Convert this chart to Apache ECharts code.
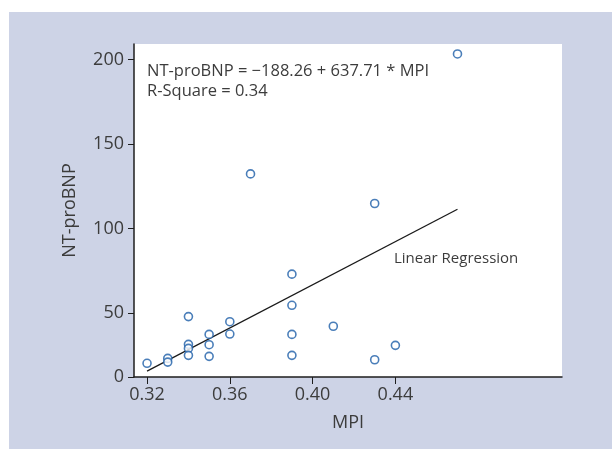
<!DOCTYPE html>
<html>
<head>
<meta charset="utf-8">
<script src="https://cdn.jsdelivr.net/npm/echarts@6/dist/echarts.min.js"></script>
<style>
html,body{margin:0;padding:0;background:#ffffff;}
#chart{width:612px;height:449px;}
</style>
</head>
<body>
<div id="chart"></div>
<script>
// Data
const mpi = [0.32, 0.33, 0.33, 0.34, 0.34, 0.34, 0.34, 0.35, 0.35, 0.35, 0.36, 0.36,
             0.37, 0.39, 0.39, 0.39, 0.39, 0.41, 0.43, 0.43, 0.44, 0.47];
const ntprobnp = [20.4, 23.3, 21.1, 48, 31.6, 29.2, 25.1, 37.5, 31.4, 24.5, 45, 37.7,
                  132.4, 73.1, 54.7, 37.5, 25.1, 42.3, 22.5, 114.9, 31.0, 203.3];
const regX = [0.32, 0.47];
const regY = [15.8, 111.5];
const xTickValues = [0.32, 0.36, 0.40, 0.44];
const xTickLabels = ['0.32', '0.36', '0.40', '0.44'];
const yTickValues = [12.3, 50, 100, 150, 200];
const yTickLabels = ['0', '50', '100', '150', '200'];
const equationText = 'NT-proBNP = \u2212188.26 + 637.71 * MPI';
const rsqText = 'R-Square = 0.34';
const regLabel = 'Linear Regression';

const FONT = '"Open Sans", "Noto Sans", sans-serif';
const TXT = '#3c3c3c';
const AX = '#1e1e1e';

const chart = echarts.init(document.getElementById('chart'));
const points = mpi.map((v, i) => [v, ntprobnp[i]]);
const line = regX.map((v, i) => [v, regY[i]]);

chart.setOption({
  backgroundColor: 'transparent',
  animation: false,
  graphic: [
    { type: 'rect', z: -10, shape: { x: 9, y: 12, width: 603, height: 437 },
      style: { fill: '#cdd3e6' } },
    { type: 'text', left: 147, top: 63, z: 10,
      style: { text: equationText, fill: TXT, font: '16.5px ' + FONT } },
    { type: 'text', left: 147, top: 83, z: 10,
      style: { text: rsqText, fill: TXT, font: '16.5px ' + FONT } },
    { type: 'text', left: 394, top: 251, z: 10,
      style: { text: regLabel, fill: TXT, font: '15px ' + FONT } }
  ],
  grid: {
    left: 134, right: 50, top: 44, bottom: 72,
    show: true, backgroundColor: '#ffffff', borderWidth: 0
  },
  xAxis: {
    type: 'value', min: 0.3137, max: 0.5205,
    name: 'MPI', nameLocation: 'middle', nameGap: 37,
    nameTextStyle: { color: TXT, fontSize: 18, fontFamily: FONT },
    axisLine: { show: true, lineStyle: { color: AX, width: 1.5 } },
    axisTick: { show: true, length: 7, customValues: xTickValues, lineStyle: { color: AX, width: 1 } },
    axisLabel: {
      customValues: xTickValues, margin: 9, color: TXT, fontSize: 18, fontFamily: FONT,
      formatter: v => { const i = xTickValues.findIndex(t => Math.abs(t - v) < 1e-6); return i >= 0 ? xTickLabels[i] : ''; }
    },
    splitLine: { show: false }
  },
  yAxis: {
    type: 'value', min: 12.3, max: 209.2,
    name: 'NT-proBNP', nameLocation: 'middle', nameGap: 55,
    nameTextStyle: { color: TXT, fontSize: 18, fontFamily: FONT },
    axisLine: { show: true, lineStyle: { color: AX, width: 1.5 } },
    axisTick: { show: true, length: 6, customValues: yTickValues, lineStyle: { color: AX, width: 1 } },
    axisLabel: {
      customValues: yTickValues, margin: 10, color: TXT, fontSize: 18, fontFamily: FONT,
      formatter: v => { const i = yTickValues.findIndex(t => Math.abs(t - v) < 1e-6); return i >= 0 ? yTickLabels[i] : ''; }
    },
    splitLine: { show: false }
  },
  series: [
    {
      type: 'line', data: line, symbol: 'none', z: 2,
      lineStyle: { color: '#1a1a1a', width: 1.3 }
    },
    {
      type: 'scatter', data: points, symbol: 'circle', symbolSize: 8, z: 3,
      itemStyle: { color: '#ffffff', borderColor: '#1d5ea8', borderWidth: 1.6 }
    }
  ]
});
</script>
</body>
</html>
